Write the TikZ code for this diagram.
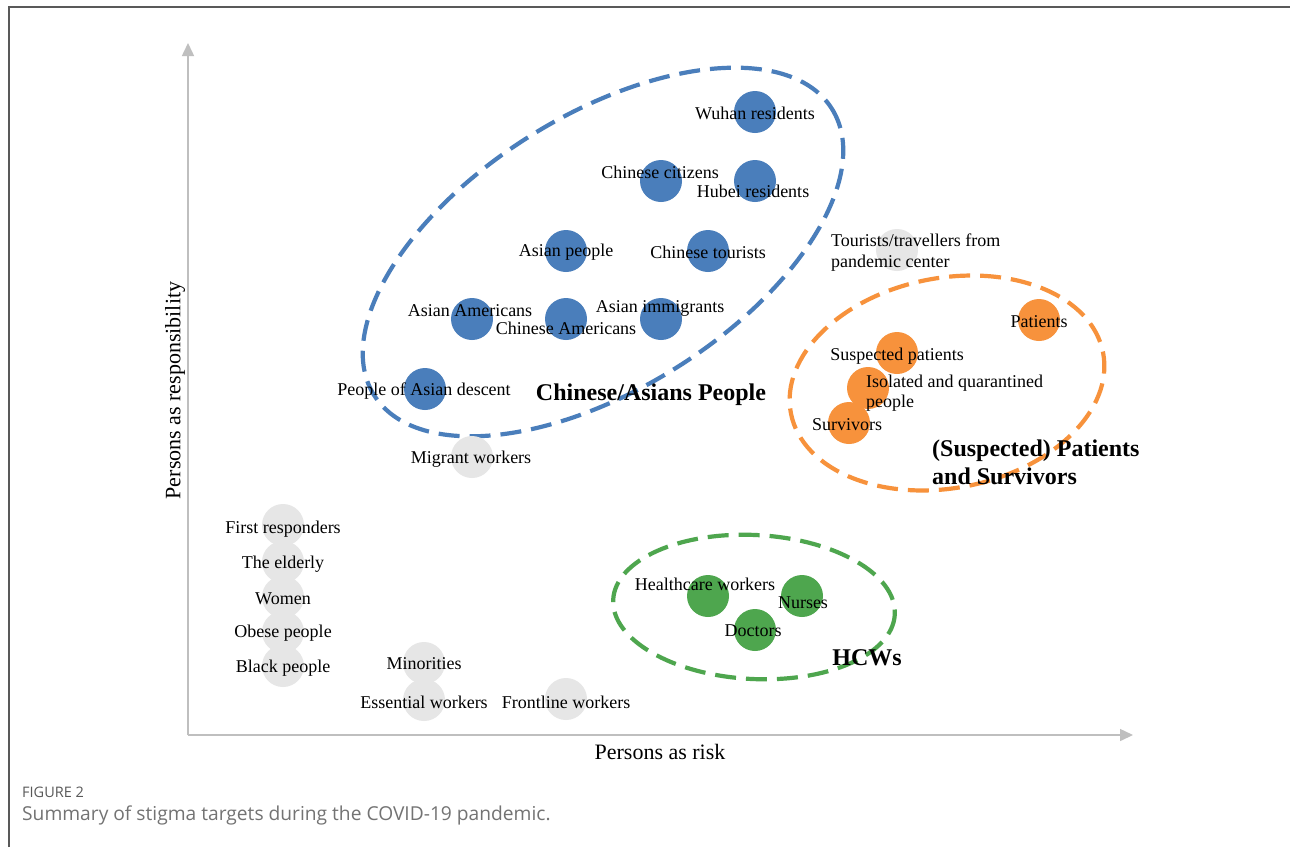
\documentclass[tikz,border=0pt]{standalone}
\usepackage{fontspec}
\setmainfont{Liberation Serif}
\newfontfamily\capfont{Open Sans}
\usepackage{tikz}
\usetikzlibrary{arrows.meta,positioning}

\begin{document}
\begin{tikzpicture}[x=1pt,y=-1pt]
\definecolor{asian}{HTML}{4A7EBB}
\definecolor{patient}{HTML}{F7923C}
\definecolor{hcw}{HTML}{4EA64E}
\definecolor{other}{HTML}{E6E6E6}
\definecolor{axis line}{HTML}{BFBFBF}
\tikzset{
     dot/.style={circle, minimum size=42pt, inner sep=0pt},
     txt/.style={font=\fontsize{18}{20}\selectfont, inner sep=0pt, yshift=-1.5pt},
     group/.style={line width=4.2pt, dash pattern=on 21pt off 10pt},
     group name/.style={font=\fontsize{24}{28}\selectfont\bfseries, align=left, inner sep=0pt, yshift=-1.5pt},
     axis/.style={draw=axis line, line width=1.5pt, -{Triangle[length=13pt,width=12pt]}}}

\useasboundingbox (0,0) rectangle (1290,847);
\fill[white] (0,0) rectangle (1290,847);

% frame
\draw[line width=2pt, black!65] (9,847) -- (9,7) -- (1290,7);

% The axes
\coordinate (origin) at (188,735);
\coordinate (ytip) at (188,43);
\coordinate (xtip) at (1133,735);
\draw [axis] (origin) -- (ytip);
\draw [axis] (origin) -- (xtip);
\node (xlabel) [txt, font=\fontsize{22}{24}\selectfont] at (660,750) {Persons as risk};
\node (ylabel) [txt, font=\fontsize{22}{24}\selectfont, rotate=90] at (175,389) {Persons as responsibility};

% The groups
\draw [group, asian, shift={(603,252)}, rotate=32] (0,0) ellipse (270 and 137);
\draw [group, patient, shift={(947,383)}, rotate=11] (0,0) ellipse (159 and 105);
\draw [group, hcw, shift={(754,607)}, rotate=-3] (0,0) ellipse (141 and 72);

% The dots
\node (wuhan)      [dot, fill=asian] at (755,112) {};
\node (citizens)   [dot, fill=asian] at (661,181) {};
\node (hubei)      [dot, fill=asian] at (755,181) {};
\node (asianppl)   [dot, fill=asian] at (566,251) {};
\node (tourists)   [dot, fill=asian] at (708,251) {};
\node (asianam)    [dot, fill=asian] at (472,319) {};
\node (chineseam)  [dot, fill=asian] at (566,319) {};
\node (immigrants) [dot, fill=asian] at (661,319) {};
\node (descent)    [dot, fill=asian] at (425,389) {};

\node (traveller)  [dot, fill=other] at (897,250) {};
\node (patients)   [dot, fill=patient] at (1039,320) {};
\node (suspected)  [dot, fill=patient] at (897,353) {};
\node (isolated)   [dot, fill=patient] at (868,388) {};
\node (survivors)  [dot, fill=patient] at (849,423) {};

\node (healthcare) [dot, fill=hcw] at (708,596) {};
\node (nurses)     [dot, fill=hcw] at (802,596) {};
\node (doctors)    [dot, fill=hcw] at (755,630) {};

\node (migrant)    [dot, fill=other] at (472,457) {};
\node (responders) [dot, fill=other] at (283,525) {};
\node (elderly)    [dot, fill=other] at (283,562) {};
\node (women)      [dot, fill=other] at (283,597) {};
\node (obese)      [dot, fill=other] at (283,632) {};
\node (black)      [dot, fill=other] at (283,666) {};
\node (minorities) [dot, fill=other] at (424,663) {};
\node (essential)  [dot, fill=other] at (424,700) {};
\node (frontline)  [dot, fill=other] at (566,699) {};

% The labels
\node (wuhan text)      [txt] at (wuhan) {Wuhan residents};
\node (citizens text)   [txt] at ([xshift=-1pt,yshift=10pt]citizens) {Chinese citizens};
\node (hubei text)      [txt] at ([xshift=-2pt,yshift=-9pt]hubei) {Hubei residents};
\node (asianppl text)   [txt] at (asianppl) {Asian people};
\node (tourists text)   [txt] at (tourists) {Chinese tourists};
\node (asianam text)    [txt] at ([xshift=-2pt,yshift=10pt]asianam) {Asian Americans};
\node (chineseam text)  [txt] at ([yshift=-8pt]chineseam) {Chinese Americans};
\node (immigrants text) [txt] at ([xshift=-1pt,yshift=12pt]immigrants) {Asian immigrants};
\node (descent text)    [txt] at ([xshift=-1pt,yshift=-1pt]descent) {People of Asian descent};

\node (traveller text)  [txt, align=left, anchor=west, font=\fontsize{18}{21}\selectfont] at ([xshift=-66pt,yshift=-1pt]traveller) {Tourists/travellers from\\pandemic center};
\node (patients text)   [txt] at (patients) {Patients};
\node (suspected text)  [txt] at ([yshift=-2pt]suspected) {Suspected patients};
\node (isolated text)   [txt, align=left, anchor=west] at ([xshift=-2pt,yshift=-4pt]isolated) {Isolated and quarantined\\people};
\node (survivors text)  [txt] at ([xshift=-2pt]survivors) {Survivors};

\node (healthcare text) [txt] at ([xshift=-3pt,yshift=13pt]healthcare) {Healthcare workers};
\node (nurses text)     [txt] at ([xshift=1pt,yshift=-5pt]nurses) {Nurses};
\node (doctors text)    [txt] at ([xshift=-2pt,yshift=1pt]doctors) {Doctors};

\node (migrant text)    [txt] at ([xshift=-1pt,yshift=-1pt]migrant) {Migrant workers};
\node (responders text) [txt] at ([yshift=-3pt]responders) {First responders};
\node (elderly text)    [txt] at ([yshift=-1pt]elderly) {The elderly};
\node (women text)      [txt] at (women) {Women};
\node (obese text)      [txt] at (obese) {Obese people};
\node (black text)      [txt] at ([yshift=-1pt]black) {Black people};
\node (minorities text) [txt] at ([yshift=1pt]minorities) {Minorities};
\node (essential text)  [txt] at ([yshift=-1pt]essential) {Essential workers};
\node (frontline text)  [txt] at ([yshift=-2pt]frontline) {Frontline workers};

% The group names
\node (asian name)   [group name] at (651,393) {Chinese/Asians People};
\node (patient name) [group name, anchor=west] at (932,461) {(Suspected) Patients\\and Survivors};
\node (hcw name)     [group name] at (867,656) {HCWs};

% caption
\node (figno)   [anchor=west, inner sep=0pt, text=black!65, font=\capfont\fontsize{14.5}{16}\selectfont] at (22,792) {FIGURE 2};
\node (summary) [anchor=west, inner sep=0pt, text=black!55, font=\capfont\fontsize{19.2}{21}\selectfont] at (22,815) {Summary of stigma targets during the COVID-19 pandemic.};
\end{tikzpicture}
\end{document}
